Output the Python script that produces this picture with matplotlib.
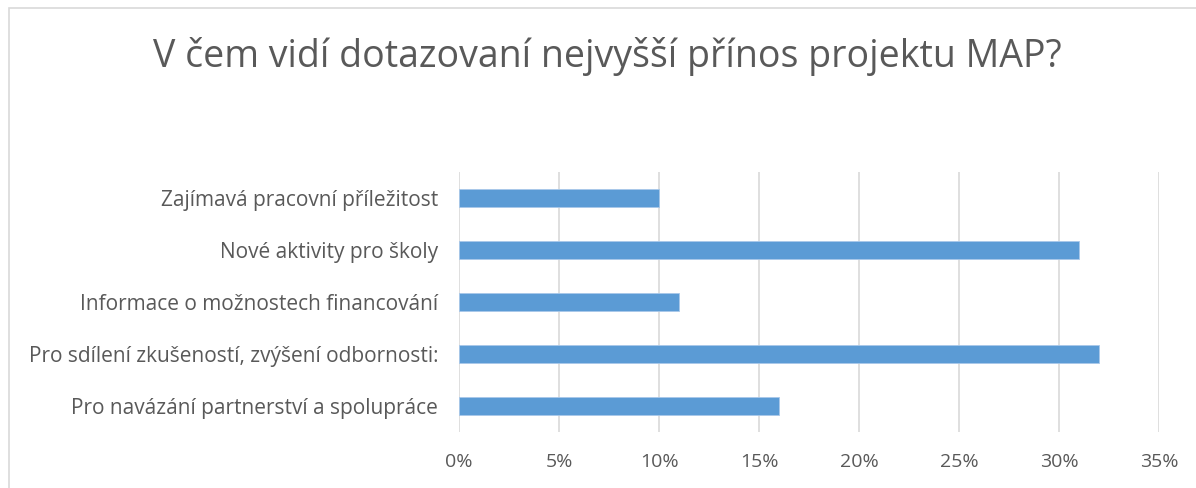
import matplotlib.pyplot as plt
from matplotlib.patches import Rectangle
from matplotlib.ticker import FuncFormatter

# Data (share of respondents)
categories = [
    'Pro navázání partnerství a spolupráce',
    'Pro sdílení zkušeností, zvýšení odbornosti:',
    'Informace o možnostech financování',
    'Nové aktivity pro školy',
    'Zajímavá pracovní příležitost',
]
values = [0.16, 0.32, 0.11, 0.31, 0.10]
x_ticks = [0, 0.05, 0.10, 0.15, 0.20, 0.25, 0.30, 0.35]

plt.rcParams['font.family'] = ['Open Sans', 'DejaVu Sans']
text_color = '#595959'
grid_color = '#d9d9d9'

fig = plt.figure(figsize=(11.96, 4.88), dpi=100)
ax = fig.add_axes([459 / 1196, 1 - 432 / 488, 700 / 1196, 260 / 488])

# outer chart border (only top/left visible in the crop)
fig.patches.append(Rectangle((9 / 1196, -0.1), 1.2, 1 - 8 / 488 + 0.1,
                             transform=fig.transFigure, fill=False,
                             edgecolor=grid_color, linewidth=1.2))

ax.barh(range(len(categories)), values, height=0.34, color='#5B9BD5',
        edgecolor='#a9c8ea', linewidth=0.6, zorder=3)

ax.set_xlim(0, 0.35)
ax.set_ylim(-0.5, len(categories) - 0.5)
ax.set_xticks(x_ticks)
ax.xaxis.set_major_formatter(FuncFormatter(lambda v, p: f'{v * 100:.0f}%'))
ax.set_yticks(range(len(categories)))
ax.set_yticklabels(categories)

ax.grid(axis='x', color=grid_color, linewidth=1.2, zorder=0)
for s in ax.spines.values():
    s.set_visible(False)
ax.tick_params(axis='x', length=0, colors=text_color, labelsize=14, pad=15)
ax.tick_params(axis='y', length=0, colors=text_color, labelsize=15, pad=15)

fig.text(0.508, 1 - 56 / 488, 'V čem vidí dotazovaní nejvyšší přínos projektu MAP?',
         ha='center', va='center', fontsize=27, color=text_color)

fig.savefig('out.png', dpi=100)
